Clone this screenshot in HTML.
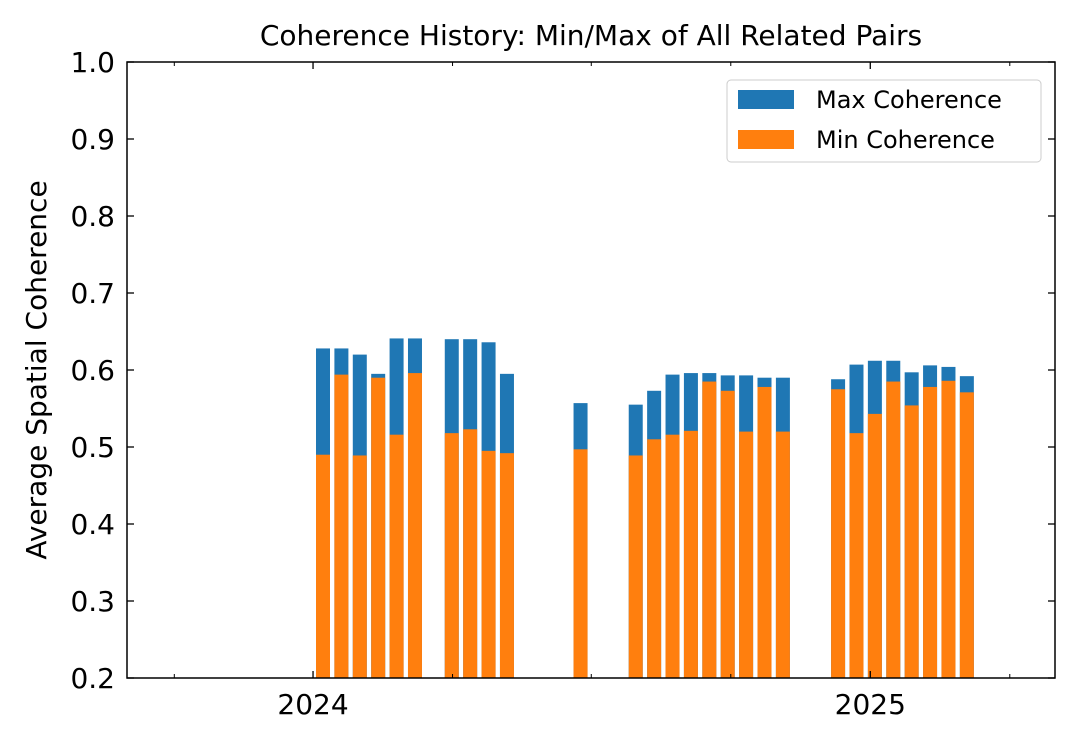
<!DOCTYPE html>
<html><head><meta charset="utf-8"><style>
html,body{margin:0;padding:0;background:#fff;}
svg text{font-family:"DejaVu Sans","Liberation Sans",sans-serif;fill:#000;}
</style></head><body>
<svg id="chart" width="1077" height="741" xmlns="http://www.w3.org/2000/svg">
<text x="591" y="45" font-size="28" text-anchor="middle">Coherence History: Min/Max of All Related Pairs</text>
<text transform="translate(46,370) rotate(-90)" font-size="28" text-anchor="middle">Average Spatial Coherence</text>
<g id="bars"></g>
<g id="axes"></g>
<rect x="127" y="62" width="928" height="616" fill="none" stroke="#000" stroke-width="1.5"/>
<g>
<rect x="727" y="80" width="314" height="82" rx="4" fill="#fff" stroke="#ccc" stroke-width="1"/>
<rect x="738" y="90" width="56" height="19" fill="#1f77b4"/>
<text x="816" y="108" font-size="24">Max Coherence</text>
<rect x="738" y="130" width="56" height="19" fill="#ff7f0e"/>
<text x="816" y="148" font-size="24">Min Coherence</text>
</g>
</svg>
<script>
const dayOffsets=[7,19,31,43,55,67,91,103,115,127,175,211,223,235,247,259,271,283,295,307,343,355,367,379,391,403,415,427];
const maxValues=[.628,.628,.620,.595,.641,.641,.640,.640,.636,.595,.557,.555,.573,.594,.596,.596,.593,.593,.590,.590,.588,.607,.612,.612,.597,.606,.604,.592];
const minValues=[.490,.594,.489,.590,.516,.596,.518,.523,.495,.492,.497,.489,.510,.516,.521,.585,.573,.520,.578,.520,.575,.518,.543,.585,.554,.578,.586,.571];
const yTicks=[0.2,0.3,0.4,0.5,0.6,0.7,0.8,0.9,1.0];
const xTickLabels=["2024","2025"];
const xTickDays=[0.5,364];
const xMinorDays=[-90,91.5,182,273,455];
const NS="http://www.w3.org/2000/svg";
const X0=127,X1=1055,Y0=678,Y1=62;
const xs=d=>323+(d-7)*1.533;
const ys=v=>Y0-(v-0.2)/(0.8)*(Y0-Y1);
const bars=document.getElementById('bars'),axes=document.getElementById('axes');
function mk(tag,attrs,parent){const e=document.createElementNS(NS,tag);for(const k in attrs)e.setAttribute(k,attrs[k]);parent.appendChild(e);return e;}
const bw=14;
dayOffsets.forEach((d,i)=>{
  const cx=xs(d);
  const r1=mk('rect',{x:cx-bw/2,y:ys(maxValues[i]),width:bw,height:Y0-ys(maxValues[i]),fill:'#1f77b4'},bars);
  
  
  const r2=mk('rect',{x:cx-bw/2,y:ys(minValues[i]),width:bw,height:Y0-ys(minValues[i]),fill:'#ff7f0e'},bars);
  
  
});
yTicks.forEach(v=>{
  const y=ys(v);
  const l1=mk('line',{x1:X0,x2:X0+7,y1:y,y2:y,stroke:'#000','stroke-width':1.3},axes);
  
  
  const l2=mk('line',{x1:X1,x2:X1-7,y1:y,y2:y,stroke:'#000','stroke-width':1.3},axes);
  
  
  const t=mk('text',{x:X0-12,y:y+10,'font-size':28,'text-anchor':'end'},axes);
  t.textContent=v.toFixed(1);
  
  
});
xTickDays.forEach((d,i)=>{
  const x=xs(d);
  const l1=mk('line',{x1:x,x2:x,y1:Y0,y2:Y0-7,stroke:'#000','stroke-width':1.3},axes);
  
  
  const l2=mk('line',{x1:x,x2:x,y1:Y1,y2:Y1+7,stroke:'#000','stroke-width':1.3},axes);
  
  
  const t=mk('text',{x:x,y:Y0+36,'font-size':28,'text-anchor':'middle'},axes);
  t.textContent=xTickLabels[i];
  
  
});
xMinorDays.forEach(d=>{
  const x=xs(d);
  const l1=mk('line',{x1:x,x2:x,y1:Y0,y2:Y0-4,stroke:'#000','stroke-width':1},axes);
  
  
  const l2=mk('line',{x1:x,x2:x,y1:Y1,y2:Y1+4,stroke:'#000','stroke-width':1},axes);
  
  
});
</script>
</body></html>
